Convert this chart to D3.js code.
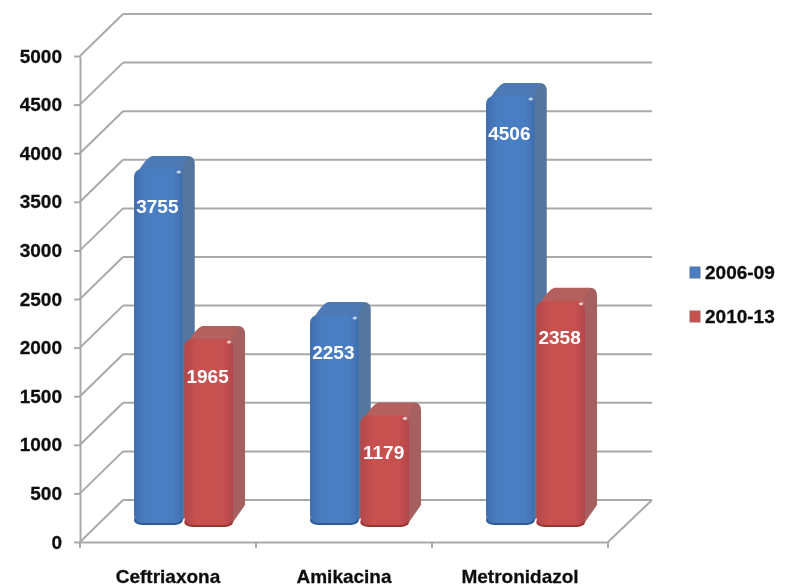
<!DOCTYPE html>
<html>
<head>
<meta charset="utf-8">
<script src="https://cdn.jsdelivr.net/npm/d3@7/dist/d3.min.js"></script>
<style>
  html,body{margin:0;padding:0;background:#fff;}
  text{font-family:"Liberation Sans",Arial,sans-serif;font-weight:bold;}
</style>
</head>
<body>
<svg id="chart"></svg>
<script>
const categories = ["Ceftriaxona","Amikacina","Metronidazol"];
const seriesNames = ["2006-09","2010-13"];
const values2006 = [3755,2253,4506];
const values2010 = [1965,1179,2358];
const yTicks = [0,500,1000,1500,2000,2500,3000,3500,4000,4500,5000];

const width = 785, height = 588;
const plot = {left:80,right:608,top:56,bottom:542};
const wall = {dx:43,dy:-42};      // depth of the 3d box
const barDepth = {dx:12,dy:-14};
const colors = {
  "2006-09":{edge:"#3f6dae",mid:"#4a7ec2",top:"#4d79b5",side:"#54779f",dark:"#2f5a96"},
  "2010-13":{edge:"#b2474a",mid:"#c6514f",top:"#b4605e",side:"#a66160",dark:"#9a3432"}
};

const svg = d3.select("#chart").attr("width",width).attr("height",height);
const defs = svg.append("defs");
defs.append("filter").attr("id","soft").append("feGaussianBlur").attr("stdDeviation",0.6);

seriesNames.forEach((s,i)=>{
  const g = defs.append("linearGradient").attr("id","front"+i);
  g.append("stop").attr("offset","0%").attr("stop-color",colors[s].edge);
  g.append("stop").attr("offset","25%").attr("stop-color",colors[s].mid);
  g.append("stop").attr("offset","80%").attr("stop-color",colors[s].mid);
  g.append("stop").attr("offset","100%").attr("stop-color",colors[s].edge);
});

const x = d3.scaleBand().domain(categories).range([plot.left,plot.right]);
const xSeries = d3.scaleBand().domain(seriesNames).range([54,153]).paddingInner(0.03);
const y = d3.scaleLinear().domain([0,5000]).range([plot.bottom,plot.top]);

const root = svg.append("g").attr("filter","url(#soft)");

// back wall grid and the diagonals that run to the axis
const grid = root.append("g").attr("stroke","#a9a9a9").attr("stroke-width",2).attr("fill","none");
grid.selectAll("line.back").data(yTicks).join("line").attr("class","back")
  .attr("x1",plot.left+wall.dx).attr("x2",plot.right+wall.dx+1)
  .attr("y1",d=>y(d)+wall.dy).attr("y2",d=>y(d)+wall.dy);
grid.selectAll("line.diag").data(yTicks).join("line").attr("class","diag")
  .attr("x1",plot.left).attr("x2",plot.left+wall.dx)
  .attr("y1",d=>y(d)).attr("y2",d=>y(d)+wall.dy);
grid.append("line")
  .attr("x1",plot.right).attr("y1",y(0))
  .attr("x2",plot.right+wall.dx+1).attr("y2",y(0)+wall.dy);

// axes
const yAxis = root.append("g").attr("transform",`translate(${plot.left},0)`)
  .call(d3.axisLeft(y).tickValues(yTicks).tickFormat(d3.format("d")).tickSize(6).tickPadding(12).tickSizeOuter(0));
yAxis.selectAll("text").attr("font-size",19).attr("fill","#111").attr("stroke","#111").attr("stroke-width",0.3);

const xAxis = root.append("g").attr("transform",`translate(0,${plot.bottom})`)
  .call(d3.axisBottom(x).tickSize(0).tickPadding(28));
xAxis.selectAll("text").attr("font-size",19).attr("fill","#111").attr("stroke","#111").attr("stroke-width",0.3);
xAxis.selectAll(".xedge").data(d3.range(categories.length+1)).join("line").attr("class","xedge")
  .attr("x1",i=>plot.left+i*x.bandwidth()).attr("x2",i=>plot.left+i*x.bandwidth())
  .attr("y1",0).attr("y2",6);
root.selectAll(".domain,.tick line,.xedge").attr("stroke","#a9a9a9").attr("stroke-width",2);

// bars
const rows = [];
categories.forEach((c,i)=>{
  rows.push({cat:c,series:seriesNames[0],si:0,value:values2006[i]});
  rows.push({cat:c,series:seriesNames[1],si:1,value:values2010[i]});
});
const seriesShift = {"2006-09":-1,"2010-13":-5};   // red bars sit a bit closer
const floorY = {"2006-09":525,"2010-13":527};

const bars = root.selectAll("g.bar").data(rows).join("g").attr("class","bar");

function geom(d){
  const x0 = x(d.cat)+xSeries(d.series);
  const w = xSeries.bandwidth();
  const backTop = y(d.value)-21+seriesShift[d.series];
  return {x0,w,backTop,frontTop:backTop-barDepth.dy,base:floorY[d.series]};
}

bars.append("path").attr("fill",d=>colors[d.series].side).attr("d",d=>{
  const g = geom(d), p = d3.path(), r = g.x0+g.w;
  p.moveTo(r-4,g.frontTop);
  p.lineTo(r+barDepth.dx-7,g.backTop+1);
  p.quadraticCurveTo(r+barDepth.dx,g.backTop+1,r+barDepth.dx,g.backTop+9);
  p.lineTo(r+barDepth.dx,g.base-22);
  p.lineTo(r-2,g.base-2);
  p.closePath();
  return p.toString();
});
bars.append("path").attr("fill",d=>colors[d.series].top).attr("d",d=>{
  const g = geom(d), p = d3.path(), r = g.x0+g.w;
  p.moveTo(g.x0+3,g.frontTop+4);
  p.quadraticCurveTo(g.x0+barDepth.dx,g.backTop+3,g.x0+barDepth.dx+6,g.backTop+1);
  p.lineTo(r+barDepth.dx-7,g.backTop+1);
  p.lineTo(r-2,g.frontTop+4);
  p.closePath();
  return p.toString();
});
bars.append("rect")
  .attr("x",d=>geom(d).x0).attr("y",d=>geom(d).base-10)
  .attr("width",d=>geom(d).w).attr("height",10).attr("rx",8)
  .attr("fill",d=>colors[d.series].dark);
bars.append("rect")
  .attr("x",d=>geom(d).x0).attr("y",d=>geom(d).frontTop)
  .attr("width",d=>geom(d).w).attr("height",d=>geom(d).base-geom(d).frontTop-2).attr("rx",8)
  .attr("fill",d=>`url(#front${d.si})`);
// little glint on the top right corner
bars.append("ellipse")
  .attr("cx",d=>geom(d).x0+geom(d).w-4).attr("cy",d=>geom(d).frontTop+3).attr("rx",2.2).attr("ry",1.6)
  .attr("fill","#fff").attr("opacity",0.7);

// value labels
bars.append("text")
  .attr("x",d=>geom(d).x0+geom(d).w/2-1)
  .attr("y",d=>geom(d).frontTop+37)
  .attr("dy","0.35em")
  .attr("text-anchor","middle").attr("font-size",19).attr("fill","#fff")
  .text(d=>d.value);

// legend
const legendY = d3.scalePoint().domain(seriesNames).range([272,316]);
const legend = root.selectAll("g.leg").data(seriesNames).join("g").attr("class","leg")
  .attr("transform",d=>`translate(690,${legendY(d)})`);
legend.append("rect").attr("x",0).attr("y",-5).attr("width",10).attr("height",11)
  .attr("fill",d=>colors[d].mid).attr("stroke",d=>colors[d].side).attr("stroke-width",1);
legend.append("text").attr("x",15).attr("dy","0.35em").attr("font-size",19).attr("fill","#111")
  .attr("stroke","#111").attr("stroke-width",0.3).text(d=>d);
</script>
</body>
</html>
